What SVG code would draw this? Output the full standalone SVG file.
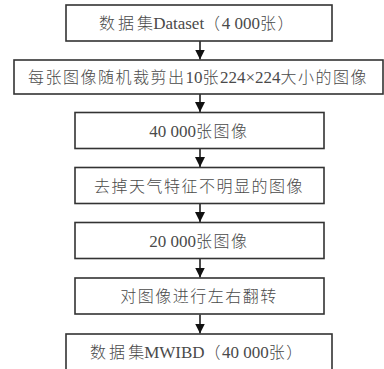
<svg xmlns="http://www.w3.org/2000/svg" width="384" height="369" viewBox="0 0 384 369">
<style>
.box{fill:#fff;stroke:#333;stroke-width:1.6}
.t{font-family:"Liberation Serif","Noto Sans CJK SC",serif;font-size:17px;fill:#4a4a4a;text-anchor:middle}
.c{font-family:"Noto Sans CJK SC",sans-serif;font-size:16px;font-weight:300;letter-spacing:1.5px}
.w{letter-spacing:3px}
.n{letter-spacing:0}
.line{stroke:#111;stroke-width:1.5;fill:none}
</style>
<defs>
<marker id="ah" markerWidth="10" markerHeight="10" refX="10" refY="5" orient="auto" markerUnits="userSpaceOnUse">
<path d="M0,0 L10,5 L0,10 Z" fill="#111"/>
</marker>
</defs>
<rect width="384" height="369" fill="#fff"/>
<g id="connectors">
<line class="line" x1="200" y1="41" x2="200" y2="59.5" marker-end="url(#ah)"/>
<line class="line" x1="200" y1="94" x2="200" y2="112" marker-end="url(#ah)"/>
<line class="line" x1="200" y1="148.5" x2="200" y2="167" marker-end="url(#ah)"/>
<line class="line" x1="200" y1="203.5" x2="200" y2="222" marker-end="url(#ah)"/>
<line class="line" x1="200" y1="258.5" x2="200" y2="277.5" marker-end="url(#ah)"/>
<line class="line" x1="200" y1="314.5" x2="200" y2="333.5" marker-end="url(#ah)"/>
</g>
<g id="n1">
<rect class="box" x="66" y="5" width="266" height="36"/>
<text class="t" x="197" y="29"><tspan class="c w">数据</tspan><tspan class="c n">集</tspan>Dataset<tspan class="c">（</tspan>4 000<tspan class="c">张）</tspan></text>
</g>
<g id="n2">
<rect class="box" x="14" y="60" width="369" height="34"/>
<text class="t" x="198" y="83"><tspan class="c">每张图像随机裁剪出</tspan>10<tspan class="c">张</tspan>224×224<tspan class="c">大小的图像</tspan></text>
</g>
<g id="n3">
<rect class="box" x="75" y="112.5" width="249" height="36"/>
<text class="t" x="199" y="136.5">40 000<tspan class="c">张图像</tspan></text>
</g>
<g id="n4">
<rect class="box" x="75" y="167.5" width="249" height="36"/>
<text class="t" x="199" y="191.5"><tspan class="c">去掉天气特征不明显的图像</tspan></text>
</g>
<g id="n5">
<rect class="box" x="75" y="222.5" width="249" height="36"/>
<text class="t" x="199" y="246.5">20 000<tspan class="c">张图像</tspan></text>
</g>
<g id="n6">
<rect class="box" x="75" y="278" width="249" height="36"/>
<text class="t" x="199" y="302"><tspan class="c">对图像进行左右翻转</tspan></text>
</g>
<g id="n7">
<rect class="box" x="66" y="334" width="266" height="40"/>
<text class="t" x="197" y="358"><tspan class="c w">数据</tspan><tspan class="c n">集</tspan>MWIBD<tspan class="c">（</tspan>40 000<tspan class="c">张）</tspan></text>
</g>
</svg>
